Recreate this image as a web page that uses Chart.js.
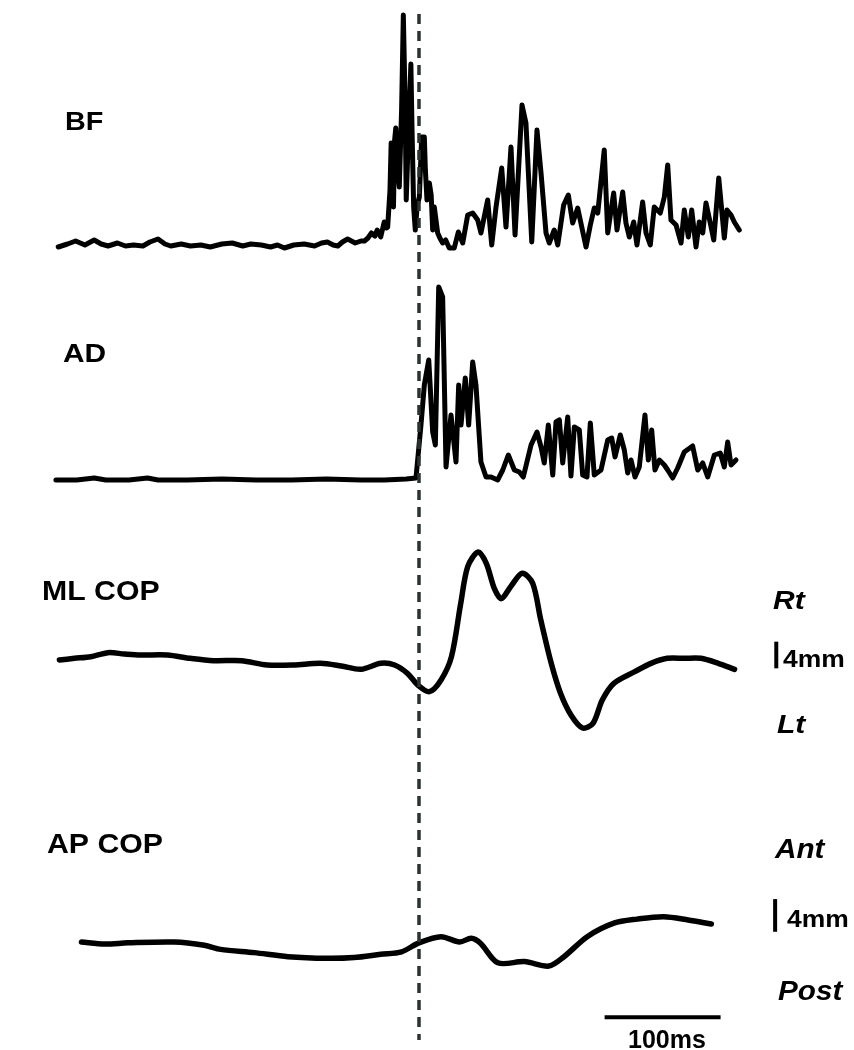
<!DOCTYPE html>
<html>
<head>
<meta charset="utf-8">
<script src="https://cdn.jsdelivr.net/npm/chart.js@4"></script>
<style>
  body { margin: 0; background: #fff; }
  #wrap { width: 854px; height: 1050px; position: relative; }
</style>
</head>
<body>
<div id="wrap"><canvas id="myChart"></canvas></div>
<script>
// Time in ms relative to onset (dashed line)
// BF EMG (a.u.)
const bfTime = [-311,-303,-296,-288,-280,-274,-268,-260,-253,-246,-238,-232,-225,-219,-214,-205,-197,-188,-180,-170,-161,-152,-145,-136,-128,-122,-116,-108,-99,-90,-84,-79,-74,-70,-66,-61.5,-55,-50,-47,-44,-41,-38,-36,-33,-30,-28,-27,-25,-24,-22,-21,-20,-19,-17,-15,-13.5,-12,-11,-9,-7,-6,-4.6,-3.2,-1.5,0.3,2.3,4.6,5.5,6.9,8.9,10.5,11.8,13.2,16.1,18,20.4,23,26.1,30.4,33.9,37.7,42,46.3,50.6,53.4,59.2,62.7,66.4,71.3,75,79.3,82.8,88.8,92.2,97.2,101.7,105.2,109.5,112.3,116.6,119.6,124.7,128.7,132.5,136.8,144,147.7,151.1,154.1,159.7,162.7,167.8,170.7,175.6,178.4,181.3,185.1,187.9,192.8,195.7,199.4,202.8,208,211.5,214.4,217.2,221.6,225.9,228.7,232.2,235.1,238.8,241.6,244.6,247.4,251.1,254.1,258.4,263.2,265.5,269,271.8,276.1];
const bfValues = [3,6,9,5,10,6,4,7,4,5,4,8,11,6,4,6,4,5,3,6,7,4,6,5,3,5,2,5,6,4,7,8,5,4,8,11,7,9,9,12,17,14,20,13,28,22,23,60,107,43,110,122,90,63,140,235,150,50,120,186,120,43,20,45,53,113,113,80,50,67,55,20,43,17,12,7,10,2,2,18,7,35,37,30,17,50,5,43,82,23,103,15,145,127,8,120,77,17,7,20,5,45,55,27,42,3,25,42,37,100,17,57,20,58,27,13,28,5,48,17,5,43,37,53,85,30,25,7,40,13,40,3,28,17,47,27,10,72,12,40,35,28,20];

// AD EMG (a.u.)
const adTime = [-313,-295,-280,-270,-250,-234,-225,-200,-170,-140,-110,-80,-50,-30,-11,-2.6,1.7,4.6,8.4,11.8,14.1,17,20.4,23.3,27.6,31.9,34.2,36.2,39.9,42.8,46.3,49.1,53.4,57.8,62.1,67.8,72.2,77,82.2,86.5,89.9,96.6,101.7,105.2,108,111.5,115.3,118.1,121,123.9,128.2,131,133.9,138.2,141.1,144.8,147.7,151.1,156.9,162.7,166.1,169,173.5,177,179.9,182.8,186.2,189.9,194.8,197.7,200.6,203.4,207.2,211.5,214.4,218.7,223,228.7,235.9,240.3,244.6,248.9,254.6,259.7,263.2,266.1,269,273.3];
const adValues = [2,2,4,2,2,4,2,2,3,2,2,3,2,2,3,4,57,97,122,50,37,195,185,15,67,20,97,57,104,57,120,97,20,5,5,2,12,27,12,10,5,37,50,35,19,57,7,60,62,19,65,6,55,52,7,5,59,7,12,42,44,25,47,32,9,22,5,15,67,22,52,12,22,17,12,4,14,30,36,12,19,5,27,29,15,40,17,22];

// ML COP (mm, + = right)
const mlTime = [-310,-297,-283,-268,-254,-240,-217,-197,-177,-153,-131,-108,-85,-67,-50,-33,-21,-10,-1,9,19,28,36,42,51,58,65,71,79,89,98,105,114,122,131,141,150,158,168,186,200,214,229,243,258,272];
const mlValues = [0,0.25,0.5,1.1,0.9,0.75,0.75,0.25,-0.1,-0.1,-0.75,-0.75,-0.5,-0.9,-1.4,-0.5,-0.75,-2.0,-3.75,-4.75,-3.0,0.5,8.5,14.0,16.2,14.5,10.7,9.2,11.0,13.0,11.5,6.0,-0.5,-5.0,-8.25,-10.2,-9.5,-6.0,-3.5,-1.75,-0.5,0.25,0.25,0.25,-0.5,-1.4];

// AP COP (mm, + = anterior)
const apTime = [-291,-271,-251,-211,-185,-171,-142,-113,-79,-56,-33,-15,0,19,35,45,53,68,91,112,125,145,168,188,211,232,252];
const apValues = [0,-0.25,-0.1,0,-0.4,-0.9,-1.3,-1.8,-2.0,-1.9,-1.5,-1.2,-0.1,0.65,0,0.45,-0.15,-2.55,-2.4,-2.95,-1.8,0.65,2.3,2.8,3.1,2.7,2.2];

// Calibration bars
const timeBar = [160, 260];     // 100 ms
const mlBar = [-1.25, 2.75];    // 4 mm
const apBar = [1.25, 5.25];     // 4 mm

const toPoints = (xs, ys) => xs.map((x, i) => ({ x: x, y: ys[i] }));

function trace(xs, ys, axis, tension, width) {
    return {
        data: toPoints(xs, ys),
        yAxisID: axis,
        borderColor: '#000',
        borderWidth: width,
        pointRadius: 0,
        tension: tension,
        borderJoinStyle: 'round',
        borderCapStyle: 'round'
    };
}

function bar(points, axis) {
    return {
        data: points,
        yAxisID: axis,
        borderColor: '#000',
        borderWidth: 4,
        pointRadius: 0,
        borderCapStyle: 'butt'
    };
}

// Text labels and onset line
const labels = [
    { t: 'BF', x: 65, y: 130, size: 25, sx: 1.15 },
    { t: 'AD', x: 63, y: 362, size: 26, sx: 1.15 },
    { t: 'ML COP', x: 42, y: 600, size: 28, sx: 1.08 },
    { t: 'AP COP', x: 47, y: 853, size: 28, sx: 1.08 },
    { t: 'Rt', x: 773, y: 609, size: 25, sx: 1.2, italic: true },
    { t: '4mm', x: 783, y: 667, size: 23, sx: 1.15 },
    { t: 'Lt', x: 777, y: 733, size: 25, sx: 1.2, italic: true },
    { t: 'Ant', x: 775, y: 858, size: 27, sx: 1.1, italic: true },
    { t: '4mm', x: 787, y: 927, size: 23, sx: 1.15 },
    { t: 'Post', x: 778, y: 1000, size: 27, sx: 1.1, italic: true },
    { t: '100ms', x: 628, y: 1048, size: 25, sx: 1.0 }
];

const overlay = {
    id: 'overlay',
    afterDatasetsDraw(chart) {
        const ctx = chart.ctx;
        const area = chart.chartArea;
        const x0 = chart.scales.x.getPixelForValue(0);
        ctx.save();
        ctx.strokeStyle = '#2b3232';
        ctx.lineWidth = 3.5;
        ctx.setLineDash([10, 7]);
        ctx.beginPath();
        ctx.moveTo(x0, area.top + 14);
        ctx.lineTo(x0, area.bottom - 10);
        ctx.stroke();
        ctx.restore();

        ctx.save();
        ctx.fillStyle = '#000';
        ctx.textBaseline = 'alphabetic';
        labels.forEach(l => {
            ctx.save();
            ctx.font = (l.italic ? 'italic ' : '') + 'bold ' + l.size + 'px "Liberation Sans", Arial, sans-serif';
            ctx.translate(l.x, l.y);
            ctx.scale(l.sx, 1);
            ctx.fillText(l.t, 0, 0);
            ctx.restore();
        });
        ctx.restore();
    }
};

document.addEventListener("DOMContentLoaded", function() {
    const ctx = document.getElementById('myChart').getContext('2d');
    new Chart(ctx, {
        type: 'line',
        data: {
            datasets: [
                trace(bfTime, bfValues, 'yBF', 0, 5),
                trace(adTime, adValues, 'yAD', 0, 5),
                trace(mlTime, mlValues, 'yML', 0.3, 5.5),
                trace(apTime, apValues, 'yAP', 0.3, 5.5),
                bar(timeBar.map(t => ({ x: t, y: -9.2 })), 'yAP'),
                bar(mlBar.map(v => ({ x: 308, y: v })), 'yML'),
                bar(apBar.map(v => ({ x: 307, y: v })), 'yAP')
            ]
        },
        options: {
            responsive: true,
            maintainAspectRatio: false,
            animation: false,
            layout: { padding: 0 },
            plugins: {
                legend: { display: false },
                tooltip: { enabled: false }
            },
            elements: { line: { fill: false } },
            datasets: { line: { clip: false } },
            scales: {
                x: { type: 'linear', display: false, min: -361.2, max: 375 },
                yBF: { display: false, min: -800, max: 250 },
                yAD: { display: false, min: -568, max: 482 },
                yML: { display: false, min: -58.47, max: 98.95 },
                yAP: { display: false, min: -13.22, max: 115.3 }
            }
        },
        plugins: [overlay]
    });
});
</script>
</body>
</html>
